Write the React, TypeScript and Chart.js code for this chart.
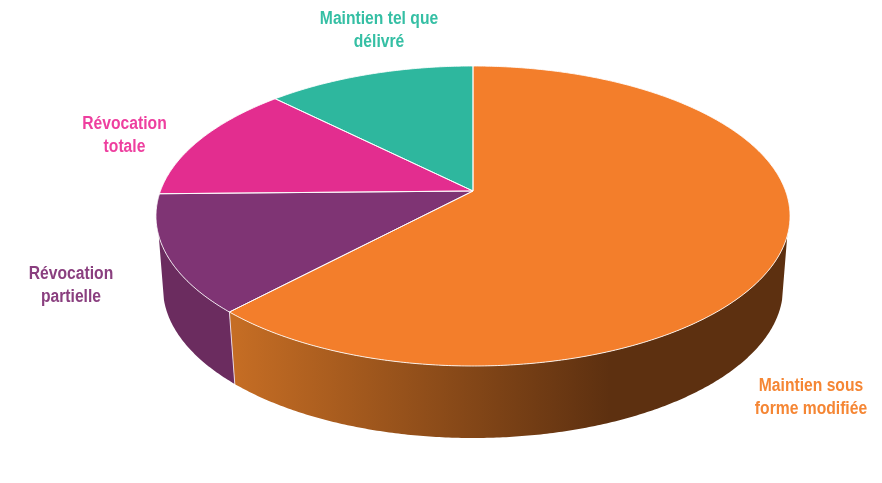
import React, { useEffect, useRef } from "react";
import { Chart, registerables } from "chart.js";

Chart.register(...registerables);

const categories = [
  ["Maintien sous", "forme modifiée"],
  ["Révocation", "partielle"],
  ["Révocation", "totale"],
  ["Maintien tel que", "délivré"],
];
const shares = [62, 12.7, 12.8, 12.5];
const faceColors = ["#f37e2b", "#7f3474", "#e32d8f", "#2eb79e"];
const labelColors = ["#f58634", "#8a3f7f", "#ee3f9f", "#35bfa4"];
const wallStops = [
  ["#c56d24", "#5d3010"],
  ["#6b2c5f", "#682a5c"],
];

// Perspective of the disc: where its top and bottom faces land on the page
const CX = 473;
const K = -1 / 6;
const TOP = { a: 312.6, b: 145.83, y: 191 };
const BOTTOM = { a: 305.7, b: 145.83, y: 263 };
const deg = Math.PI / 180;
const project = (plane: typeof TOP, t: number): [number, number] => {
  const u = Math.cos(t);
  const v = Math.sin(t);
  const d = 1 + K * v;
  return [CX + (plane.a * u) / d, plane.y + (plane.b * v) / d];
};
const LABEL_ANCHORS = [
  [811, 386],
  [71, 274],
  [124.5, 124],
  [379, 19],
];
const LABEL_WIDTH_SCALE = 0.87;

function trace(ctx: CanvasRenderingContext2D, plane: typeof TOP, from: number, to: number, first: boolean) {
  const steps = Math.max(2, Math.ceil(Math.abs(to - from) / (0.5 * deg)));
  for (let i = 0; i <= steps; i++) {
    const [x, y] = project(plane, from + ((to - from) * i) / steps);
    if (i === 0 && first) ctx.moveTo(x, y);
    else ctx.lineTo(x, y);
  }
}

const discPlugin = {
  id: "perspectiveDisc",
  beforeDatasetDraw(chart: any) {
    const ctx: CanvasRenderingContext2D = chart.ctx;
    const arcs = chart.getDatasetMeta(0).data;
    ctx.save();
    ctx.lineJoin = "round";

    arcs.forEach((arc: any, i: number) => {
      const stops = wallStops[i];
      if (!stops) return;
      const s = Math.max(arc.startAngle, 17 * deg);
      const e = Math.min(arc.endAngle, 163 * deg);
      const s2 = Math.max(arc.startAngle, 14 * deg);
      const e2 = Math.min(arc.endAngle, 166 * deg);
      if (e <= s) return;
      const g = ctx.createLinearGradient(235, 0, 610, 0);
      g.addColorStop(0, stops[0]);
      g.addColorStop(1, stops[1]);
      ctx.fillStyle = g;
      ctx.beginPath();
      trace(ctx, TOP, s, e, true);
      trace(ctx, BOTTOM, e2, s2, false);
      ctx.closePath();
      ctx.fill();
    });

    // seam between the two visible walls
    const seam = arcs[0].endAngle;
    ctx.strokeStyle = "rgba(240,225,235,0.9)";
    ctx.lineWidth = 1;
    ctx.beginPath();
    ctx.moveTo(...project(TOP, seam));
    ctx.lineTo(...project(BOTTOM, seam));
    ctx.stroke();

    arcs.forEach((arc: any, i: number) => {
      ctx.beginPath();
      ctx.moveTo(CX, TOP.y);
      trace(ctx, TOP, arc.startAngle, arc.endAngle, false);
      ctx.closePath();
      ctx.fillStyle = faceColors[i];
      ctx.fill();
    });
    arcs.forEach((arc: any) => {
      ctx.beginPath();
      ctx.moveTo(CX, TOP.y);
      trace(ctx, TOP, arc.startAngle, arc.endAngle, false);
      ctx.closePath();
      ctx.strokeStyle = "rgba(255,255,255,0.85)";
      ctx.lineWidth = 1;
      ctx.stroke();
    });

    ctx.font = "bold 18px 'Liberation Sans', Arial, sans-serif";
    ctx.textAlign = "center";
    ctx.textBaseline = "middle";
    (chart.data.labels as string[][]).forEach((lines, i) => {
      const [x, y] = LABEL_ANCHORS[i];
      ctx.fillStyle = labelColors[i];
      lines.forEach((line, j) => {
        ctx.save();
        ctx.translate(x, y + j * 23);
        ctx.scale(LABEL_WIDTH_SCALE, 1);
        ctx.fillText(line, 0, 0);
        ctx.restore();
      });
    });
    ctx.restore();
    return false;
  },
};

export default function App() {
  const ref = useRef<HTMLCanvasElement>(null);
  useEffect(() => {
    const chart = new Chart(ref.current!, {
      type: "pie",
      data: {
        labels: categories as any,
        datasets: [{ data: shares, backgroundColor: faceColors, borderColor: "#ffffff", borderWidth: 1 }],
      },
      options: {
        animation: false,
        responsive: false,
        plugins: { legend: { display: false }, tooltip: { enabled: false } },
      },
      plugins: [discPlugin as any],
    });
    return () => chart.destroy();
  }, []);
  return (
    <div style={{ position: "fixed", left: 0, top: 0, width: 882, height: 483, background: "#fff" }}>
      <canvas ref={ref} width={882} height={483} style={{ display: "block" }} />
    </div>
  );
}
